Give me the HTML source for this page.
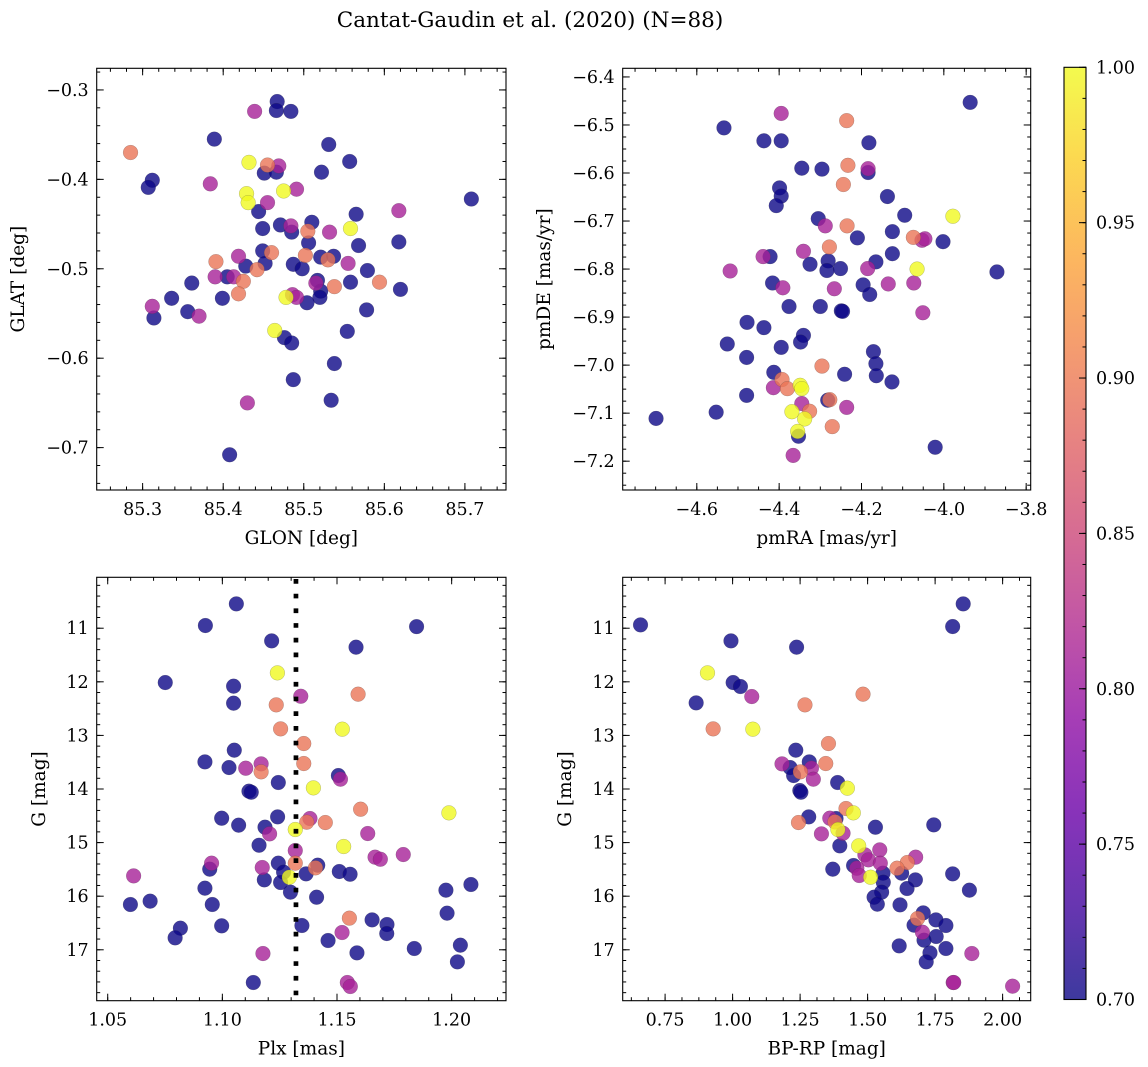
<!DOCTYPE html>
<html><head><meta charset="utf-8">
<style>
html,body{margin:0;padding:0;background:#fff;}
svg{display:block;font-family:"DejaVu Serif","Liberation Serif",serif;}
</style></head>
<body>
<svg id="fig" width="1148" height="1067" viewBox="0 0 1148 1067" xmlns="http://www.w3.org/2000/svg">
<defs>
<linearGradient id="plasmaGrad" x1="0" y1="1" x2="0" y2="0">
<stop offset="0" stop-color="#0d0887"/><stop offset="0.1" stop-color="#41049d"/><stop offset="0.2" stop-color="#6a00a8"/><stop offset="0.3" stop-color="#8f0da4"/><stop offset="0.4" stop-color="#b12a90"/><stop offset="0.5" stop-color="#cc4778"/><stop offset="0.6" stop-color="#e16462"/><stop offset="0.7" stop-color="#f2844b"/><stop offset="0.8" stop-color="#fca636"/><stop offset="0.9" stop-color="#fcce25"/><stop offset="1" stop-color="#f0f921"/>
</linearGradient>
</defs>
<text x="530" y="27" font-size="21.5" text-anchor="middle">Cantat-Gaudin et al. (2020) (N=88)</text>
</svg>
<script>
// ---- Panel 1: GLON vs GLAT ----
const glon = [85.467,85.466,85.484,85.439,85.389,85.285,85.531,85.557,85.432,85.455,85.469,85.451,85.466,85.522,85.312,85.307,85.384,85.429,85.431,85.475,85.491,85.455,85.444,85.708,85.618,85.565,85.449,85.471,85.484,85.485,85.510,85.505,85.532,85.558,85.506,85.568,85.618,85.449,85.460,85.419,85.391,85.452,85.428,85.442,85.502,85.521,85.537,85.530,85.487,85.498,85.555,85.579,85.390,85.405,85.413,85.425,85.419,85.361,85.336,85.399,85.517,85.515,85.521,85.520,85.538,85.558,85.594,85.620,85.478,85.486,85.491,85.504,85.312,85.314,85.356,85.370,85.578,85.464,85.476,85.485,85.554,85.538,85.487,85.430,85.534,85.408];
const glat = [-0.313,-0.323,-0.324,-0.324,-0.355,-0.370,-0.361,-0.380,-0.381,-0.384,-0.385,-0.393,-0.392,-0.392,-0.401,-0.409,-0.405,-0.416,-0.426,-0.413,-0.411,-0.426,-0.436,-0.422,-0.435,-0.439,-0.455,-0.451,-0.452,-0.459,-0.448,-0.458,-0.459,-0.455,-0.471,-0.474,-0.470,-0.480,-0.482,-0.486,-0.492,-0.494,-0.497,-0.501,-0.485,-0.487,-0.486,-0.490,-0.495,-0.500,-0.494,-0.502,-0.509,-0.509,-0.509,-0.514,-0.528,-0.516,-0.533,-0.533,-0.513,-0.516,-0.525,-0.532,-0.520,-0.515,-0.515,-0.523,-0.532,-0.529,-0.532,-0.538,-0.542,-0.555,-0.548,-0.553,-0.546,-0.569,-0.577,-0.583,-0.570,-0.606,-0.624,-0.650,-0.647,-0.708];
const prob1 = [0.70,0.70,0.70,0.81,0.70,0.895,0.70,0.70,1.0,0.895,0.81,0.70,0.70,0.70,0.70,0.70,0.81,1.0,1.0,1.0,0.81,0.81,0.70,0.70,0.81,0.70,0.70,0.70,0.81,0.70,0.70,0.895,0.81,1.0,0.70,0.70,0.70,0.70,0.895,0.81,0.895,0.70,0.70,0.895,0.895,0.70,0.70,0.895,0.70,0.70,0.81,0.70,0.81,0.70,0.81,0.895,0.895,0.70,0.70,0.70,0.70,0.81,0.70,0.70,0.895,0.70,0.895,0.70,1.0,0.81,0.81,0.70,0.81,0.70,0.70,0.81,0.70,1.0,0.70,0.70,0.70,0.70,0.70,0.81,0.70,0.70];

// ---- Panel 2: pmRA vs pmDE ----
const pmra = [-3.936,-4.395,-4.534,-4.236,-4.437,-4.395,-4.182,-4.345,-4.296,-4.233,-4.184,-4.184,-4.244,-4.399,-4.395,-4.407,-4.137,-4.095,-3.978,-4.305,-4.288,-4.235,-4.210,-4.125,-4.074,-4.053,-4.046,-4.002,-4.278,-4.341,-4.422,-4.439,-4.325,-4.281,-4.284,-4.251,-4.165,-4.125,-4.185,-4.065,-3.871,-4.519,-4.416,-4.391,-4.266,-4.196,-4.180,-4.135,-4.073,-4.376,-4.300,-4.249,-4.246,-4.051,-4.478,-4.437,-4.526,-4.341,-4.348,-4.395,-4.479,-4.171,-4.165,-4.164,-4.126,-4.413,-4.296,-4.241,-4.393,-4.349,-4.345,-4.380,-4.414,-4.479,-4.282,-4.277,-4.345,-4.236,-4.326,-4.369,-4.338,-4.553,-4.699,-4.271,-4.355,-4.353,-4.021,-4.366];
const pmde = [-6.453,-6.476,-6.506,-6.491,-6.533,-6.533,-6.537,-6.590,-6.592,-6.584,-6.591,-6.599,-6.624,-6.631,-6.648,-6.668,-6.649,-6.688,-6.690,-6.695,-6.710,-6.710,-6.735,-6.722,-6.734,-6.740,-6.737,-6.743,-6.754,-6.763,-6.774,-6.774,-6.790,-6.783,-6.803,-6.799,-6.785,-6.768,-6.799,-6.800,-6.806,-6.804,-6.829,-6.839,-6.841,-6.833,-6.853,-6.831,-6.829,-6.878,-6.878,-6.887,-6.888,-6.891,-6.911,-6.922,-6.956,-6.938,-6.952,-6.963,-6.984,-6.972,-6.997,-7.022,-7.035,-7.015,-7.002,-7.019,-7.030,-7.042,-7.049,-7.049,-7.047,-7.063,-7.073,-7.072,-7.080,-7.088,-7.096,-7.097,-7.112,-7.098,-7.111,-7.128,-7.138,-7.148,-7.171,-7.188];
const prob2 = [0.70,0.81,0.70,0.895,0.70,0.70,0.70,0.70,0.70,0.895,0.81,0.70,0.895,0.70,0.70,0.70,0.70,0.70,1.0,0.70,0.81,0.895,0.70,0.70,0.895,0.81,0.81,0.70,0.895,0.81,0.70,0.81,0.70,0.70,0.70,0.70,0.70,0.70,0.81,1.0,0.70,0.81,0.70,0.81,0.81,0.70,0.70,0.81,0.81,0.70,0.70,0.70,0.70,0.81,0.70,0.70,0.70,0.70,0.70,0.70,0.70,0.70,0.70,0.70,0.70,0.70,0.895,0.70,0.895,1.0,1.0,0.895,0.81,0.70,0.70,0.895,0.81,0.81,0.895,1.0,1.0,0.70,0.70,0.895,1.0,0.70,0.70,0.81];

// ---- Panel 3: Plx vs G ----
const plx = [1.1061,1.0926,1.1847,1.1215,1.1583,1.1240,1.0751,1.1049,1.1049,1.1342,1.1592,1.1235,1.1254,1.1523,1.1355,1.1052,1.0924,1.1029,1.1102,1.1169,1.1169,1.1355,1.1506,1.1515,1.1244,1.1116,1.1126,1.1397,1.1603,1.1988,1.0997,1.1071,1.1241,1.1382,1.1368,1.1449,1.1186,1.1206,1.1318,1.1634,1.1160,1.1529,1.1318,1.1666,1.1689,1.1789,1.0953,1.0945,1.1244,1.1318,1.1416,1.1406,1.1174,1.0613,1.1267,1.1292,1.1365,1.1510,1.1557,1.1183,1.1254,1.0924,1.1297,1.1411,1.1975,1.2084,1.0599,1.0685,1.0956,1.1980,1.1554,1.1653,1.1718,1.1717,1.0817,1.0794,1.0997,1.1347,1.1522,1.1461,1.1837,1.2038,1.1587,1.2025,1.1177,1.1135,1.1545,1.1558];
const gmag3 = [10.546,10.95,10.97,11.236,11.354,11.833,12.014,12.082,12.399,12.269,12.231,12.430,12.878,12.884,13.152,13.276,13.494,13.600,13.612,13.531,13.680,13.525,13.749,13.817,13.879,14.041,14.06,13.979,14.377,14.445,14.545,14.675,14.520,14.551,14.619,14.626,14.713,14.837,14.756,14.831,15.049,15.073,15.148,15.272,15.310,15.223,15.384,15.496,15.384,15.384,15.422,15.471,15.465,15.621,15.552,15.646,15.583,15.540,15.590,15.695,15.745,15.851,15.925,16.019,15.888,15.782,16.155,16.093,16.155,16.317,16.410,16.442,16.529,16.697,16.597,16.777,16.553,16.547,16.678,16.827,16.976,16.914,17.057,17.225,17.070,17.611,17.611,17.685];
const prob3 = [0.70,0.70,0.70,0.70,0.70,1.0,0.70,0.70,0.70,0.81,0.895,0.895,0.895,1.0,0.895,0.70,0.70,0.70,0.81,0.81,0.895,0.895,0.70,0.81,0.70,0.70,0.70,1.0,0.895,1.0,0.70,0.70,0.70,0.81,0.895,0.895,0.70,0.81,1.0,0.81,0.70,1.0,0.81,0.81,0.81,0.81,0.81,0.70,0.70,0.895,0.70,0.895,0.81,0.81,0.70,1.0,0.70,0.70,0.70,0.70,0.70,0.70,0.70,0.70,0.70,0.70,0.70,0.70,0.70,0.70,0.895,0.70,0.70,0.70,0.70,0.70,0.70,0.70,0.81,0.70,0.70,0.70,0.70,0.70,0.81,0.70,0.81,0.81];
const plxMedian = 1.1321;

// ---- Panel 4: BP-RP vs G ----
const bprp = [1.854,0.659,1.815,0.994,1.237,0.907,1.002,1.029,1.071,1.483,0.865,1.268,0.928,1.075,1.355,1.234,1.183,1.213,1.284,1.292,1.345,1.251,1.226,1.299,1.389,1.249,1.253,1.425,1.420,1.447,1.282,1.244,1.360,1.383,1.379,1.390,1.409,1.329,1.529,1.745,1.397,1.467,1.545,1.490,1.503,1.547,1.678,1.647,1.609,1.371,1.448,1.460,1.469,1.511,1.557,1.626,1.558,1.815,1.677,1.646,1.552,1.877,1.524,1.536,1.620,1.706,1.685,1.672,1.753,1.790,1.703,1.754,1.709,1.617,1.790,1.731,1.717,1.886,1.817,1.819,2.037];
const gmag4 = [10.546,10.938,10.969,11.236,11.354,11.833,12.014,12.088,12.275,12.231,12.393,12.430,12.878,12.884,13.152,13.276,13.531,13.600,13.494,13.612,13.525,13.680,13.749,13.817,13.879,14.029,14.06,13.985,14.364,14.445,14.520,14.626,14.545,14.551,14.613,14.756,14.825,14.837,14.713,14.669,15.061,15.061,15.136,15.229,15.322,15.384,15.272,15.372,15.478,15.496,15.428,15.478,15.614,15.646,15.571,15.571,15.739,15.583,15.695,15.857,15.925,15.888,16.019,16.149,16.162,16.311,16.417,16.541,16.442,16.547,16.672,16.752,16.821,16.927,16.976,17.057,17.225,17.070,17.611,17.611,17.679];
const prob4 = [0.70,0.70,0.70,0.70,0.70,1.0,0.70,0.70,0.81,0.895,0.70,0.895,0.895,1.0,0.895,0.70,0.81,0.70,0.70,0.81,0.895,0.895,0.70,0.81,0.70,0.70,0.70,1.0,0.895,1.0,0.70,0.895,0.81,0.70,0.895,1.0,0.81,0.81,0.70,0.70,0.70,1.0,0.81,0.81,0.81,0.81,0.81,0.895,0.895,0.70,0.70,0.81,0.81,1.0,0.70,0.70,0.70,0.70,0.70,0.70,0.70,0.70,0.70,0.70,0.70,0.70,0.895,0.70,0.70,0.70,0.81,0.70,0.70,0.70,0.70,0.70,0.70,0.81,0.81,0.81,0.81];

// ---- Colorbar ticks ----
const cbarTicks = [0.70,0.75,0.80,0.85,0.90,0.95,1.00];
const cbarLabels = ["0.70","0.75","0.80","0.85","0.90","0.95","1.00"];

const NS = "http://www.w3.org/2000/svg";
const fig = document.getElementById('fig');
function mk(tag, attrs, parent){const e=document.createElementNS(NS,tag);for(const k in attrs)e.setAttribute(k,attrs[k]);(parent||fig).appendChild(e);return e;}

const stops=[[0,[13,8,135]],[0.1,[65,4,157]],[0.2,[106,0,168]],[0.3,[143,13,164]],[0.4,[177,42,144]],[0.5,[204,71,120]],[0.6,[225,100,98]],[0.7,[242,132,75]],[0.8,[252,166,54]],[0.9,[252,206,37]],[1,[240,249,33]]];
function plasma(t){t=Math.max(0,Math.min(1,t));for(let i=1;i<stops.length;i++){if(t<=stops[i][0]){const a=stops[i-1],b=stops[i];const f=(t-a[0])/(b[0]-a[0]);const c=a[1].map((v,j)=>Math.round(v+(b[1][j]-v)*f));return `rgb(${c[0]},${c[1]},${c[2]})`;}}return 'rgb(240,249,33)';}
const vmin=0.70,vmax=1.00;
const TF=17.5, AF=18.5;

function panel(cfg){
  const {l,r,t,b,xlim,ylim,name}=cfg;
  const g=mk('g',{});
  
  
  const sx=v=>l+(v-xlim[0])/(xlim[1]-xlim[0])*(r-l);
  const sy=v=>b-(v-ylim[0])/(ylim[1]-ylim[0])*(b-t);
  const idx=cfg.xs.map((_,i)=>i).sort((a,c)=>cfg.ps[a]-cfg.ps[c]);
  const pg=mk('g',{},g);
  
  
  idx.forEach(i=>{
    const c=mk('circle',{cx:sx(cfg.xs[i]).toFixed(2),cy:sy(cfg.ys[i]).toFixed(2),r:7.4,fill:plasma((cfg.ps[i]-vmin)/(vmax-vmin)),'fill-opacity':0.8,stroke:'rgba(60,60,60,0.35)','stroke-width':0.5},pg);
    
    
  });
  if(cfg.extra) cfg.extra(g,sx,sy);
  const fr=mk('rect',{x:l,y:t,width:r-l,height:b-t,fill:'none',stroke:'#000','stroke-width':1.1},g);
  
  
  const tk=mk('g',{stroke:'#000','stroke-width':1},g);
  function range(a,c,s){const out=[];const n0=Math.ceil((a-1e-9)/s),n1=Math.floor((c+1e-9)/s);for(let n=n0;n<=n1;n++)out.push(+(n*s).toFixed(6));return out;}
  const xmin=Math.min(...xlim),xmax=Math.max(...xlim),ymin=Math.min(...ylim),ymax=Math.max(...ylim);
  range(xmin,xmax,cfg.xminor).forEach(v=>{const x=sx(v);mk('line',{x1:x,x2:x,y1:b,y2:b-3.5},tk);mk('line',{x1:x,x2:x,y1:t,y2:t+3.5},tk);});
  range(ymin,ymax,cfg.yminor).forEach(v=>{const y=sy(v);mk('line',{x1:l,x2:l+3.5,y1:y,y2:y},tk);mk('line',{x1:r,x2:r-3.5,y1:y,y2:y},tk);});
  cfg.xticks.forEach((v,i)=>{const x=sx(v);mk('line',{x1:x,x2:x,y1:b,y2:b-7},tk);mk('line',{x1:x,x2:x,y1:t,y2:t+7},tk);
    const tx=mk('text',{x:x,y:b+25,'font-size':TF,'text-anchor':'middle'},g);tx.textContent=cfg.xlabels[i];
    
    });
  cfg.yticks.forEach((v,i)=>{const y=sy(v);mk('line',{x1:l,x2:l+7,y1:y,y2:y},tk);mk('line',{x1:r,x2:r-7,y1:y,y2:y},tk);
    const tx=mk('text',{x:l-8,y:y+6,'font-size':TF,'text-anchor':'end'},g);tx.textContent=cfg.ylabels[i];
    
    });
  const xt=mk('text',{x:(l+r)/2,y:b+54,'font-size':AF,'text-anchor':'middle'},g);xt.textContent=cfg.xtitle;
  
  
  const yt=mk('text',{x:0,y:0,'font-size':AF,'text-anchor':'middle',transform:`translate(${cfg.ytx},${(t+b)/2}) rotate(-90)`},g);yt.textContent=cfg.ytitle;
  
  
}

panel({name:'glon-glat-panel',l:96.7,r:506,t:68.3,b:490,xlim:[85.243,85.751],ylim:[-0.7474,-0.2758],xs:glon,ys:glat,ps:prob1,
  xticks:[85.3,85.4,85.5,85.6,85.7],xlabels:['85.3','85.4','85.5','85.6','85.7'],xminor:0.02,
  yticks:[-0.3,-0.4,-0.5,-0.6,-0.7],ylabels:['\u22120.3','\u22120.4','\u22120.5','\u22120.6','\u22120.7'],yminor:0.02,
  xtitle:'GLON [deg]',ytitle:'GLAT [deg]',ytx:24});
panel({name:'pmra-pmde-panel',l:622.7,r:1030.7,t:68.3,b:490,xlim:[-4.78,-3.789],ylim:[-7.260,-6.382],xs:pmra,ys:pmde,ps:prob2,
  xticks:[-4.6,-4.4,-4.2,-4.0,-3.8],xlabels:['\u22124.6','\u22124.4','\u22124.2','\u22124.0','\u22123.8'],xminor:0.05,
  yticks:[-6.4,-6.5,-6.6,-6.7,-6.8,-6.9,-7.0,-7.1,-7.2],ylabels:['\u22126.4','\u22126.5','\u22126.6','\u22126.7','\u22126.8','\u22126.9','\u22127.0','\u22127.1','\u22127.2'],yminor:0.025,
  xtitle:'pmRA [mas/yr]',ytitle:'pmDE [mas/yr]',ytx:550});
panel({name:'plx-g-panel',l:96.7,r:506,t:577.3,b:1000.7,xlim:[1.0452,1.2237],ylim:[17.95,10.05],xs:plx,ys:gmag3,ps:prob3,
  xticks:[1.05,1.10,1.15,1.20],xlabels:['1.05','1.10','1.15','1.20'],xminor:0.01,
  yticks:[11,12,13,14,15,16,17],ylabels:['11','12','13','14','15','16','17'],yminor:0.2,
  xtitle:'Plx [mas]',ytitle:'G [mag]',ytx:45,
  extra:(g,sx,sy)=>{const x=sx(plxMedian);const ln=mk('line',{x1:x,x2:x,y1:579,y2:1000,stroke:'#000','stroke-width':4.7,'stroke-dasharray':'4.7 10'},g);
    
    }});
panel({name:'bprp-g-panel',l:622.7,r:1030.7,t:577.3,b:1000.7,xlim:[0.593,2.104],ylim:[17.95,10.05],xs:bprp,ys:gmag4,ps:prob4,
  xticks:[0.75,1.00,1.25,1.50,1.75,2.00],xlabels:['0.75','1.00','1.25','1.50','1.75','2.00'],xminor:0.0625,
  yticks:[11,12,13,14,15,16,17],ylabels:['11','12','13','14','15','16','17'],yminor:0.2,
  xtitle:'BP-RP [mag]',ytitle:'G [mag]',ytx:571});

(function(){
  const l=1064,r=1086,t=67.3,b=999.5;
  const g=mk('g',{});
  
  
  mk('rect',{x:l,y:t,width:r-l,height:b-t,fill:'url(#plasmaGrad)','fill-opacity':0.8},g);
  mk('rect',{x:l,y:t,width:r-l,height:b-t,fill:'none',stroke:'#000','stroke-width':1.1},g);
  const sy=v=>b-(v-vmin)/(vmax-vmin)*(b-t);
  for(let n=70;n<=100;n++){const y=sy(n/100);mk('line',{x1:r,x2:r-3.5,y1:y,y2:y,stroke:'#000','stroke-width':1},g);}
  cbarTicks.forEach((v,i)=>{const y=sy(v);mk('line',{x1:r,x2:r-7,y1:y,y2:y,stroke:'#000','stroke-width':1},g);
    const tx=mk('text',{x:1096,y:y+6,'font-size':TF},g);tx.textContent=cbarLabels[i];
    
    });
})();
</script>
</body></html>
